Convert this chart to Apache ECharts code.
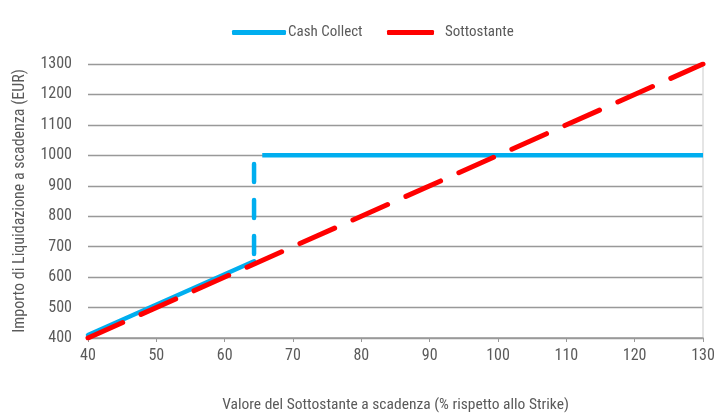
<!DOCTYPE html>
<html>
<head>
<meta charset="utf-8">
<script src="https://cdn.jsdelivr.net/npm/echarts@6/dist/echarts.min.js"></script>
<style>html,body{margin:0;padding:0;background:#fff}#c{width:716px;height:413px}</style>
</head>
<body>
<div id="c"></div>
<script>
const xTicks = [40, 50, 60, 70, 80, 90, 100, 110, 120, 130];
const yTicks = [400, 500, 600, 700, 800, 900, 1000, 1100, 1200, 1300];
const ccLow = [[40, 410], [64.3, 652]];
const ccJump = [[64.3, 676], [64.3, 1012]];
const ccHigh = [[65.5, 1000], [130, 1000]];
const underlying = [[40, 400], [130, 1300]];

const FONT = "'Roboto Condensed', 'Liberation Sans', sans-serif";
const BLUE = '#00AEEF';
const RED = '#FF0000';
const TXT = '#5a5a5a';
const chart = echarts.init(document.getElementById('c'));
chart.setOption({
  animation: false,
  textStyle: { fontFamily: FONT },
  legend: [{
    top: 20,
    left: 227,
    itemWidth: 54,
    itemHeight: 5,
    textStyle: { color: TXT, fontSize: 15, fontFamily: FONT, padding: [0, 0, 0, -3] },
    data: [{ name: 'Cash Collect', icon: 'roundRect', itemStyle: { color: BLUE } }]
  }, {
    top: 20,
    left: 382,
    itemWidth: 47,
    itemHeight: 5,
    textStyle: { color: TXT, fontSize: 15, fontFamily: FONT, padding: [0, 0, 0, 6] },
    data: [{ name: 'Sottostante', icon: 'roundRect', itemStyle: { color: RED } }]
  }],
  grid: { left: 88, right: 13, top: 64, bottom: 75, outerBoundsMode: 'none' },
  xAxis: {
    type: 'value',
    min: 40, max: 130, interval: 10,
    name: 'Valore del Sottostante a scadenza (% rispetto allo Strike)',
    nameLocation: 'middle',
    nameGap: 59,
    nameTextStyle: { color: TXT, fontSize: 15.5, fontFamily: FONT },
    axisLine: { show: true, lineStyle: { color: '#999', width: 1.5 } },
    axisTick: { show: true, length: 4, lineStyle: { color: '#999' } },
    axisLabel: { color: TXT, fontSize: 16, margin: 10, fontFamily: FONT,
      formatter: v => xTicks.includes(v) ? String(v) : '' },
    splitLine: { show: false }
  },
  yAxis: [{
    type: 'value',
    min: 400, max: 1300, interval: 100,
    name: 'Importo di Liquidazione a scadenza (EUR)',
    nameLocation: 'middle',
    nameGap: 60,
    nameTextStyle: { color: TXT, fontSize: 16, fontFamily: FONT },
    axisLine: { show: false },
    axisTick: { show: false },
    axisLabel: { color: TXT, fontSize: 16, margin: 16, fontFamily: FONT,
      formatter: v => yTicks.includes(v) ? String(v) : '' },
    splitLine: { show: true, lineStyle: { color: '#999', width: 1.3 } }
  }, {
    type: 'value',
    position: 'right',
    min: 400, max: 1300, interval: 100,
    axisLine: { show: true, lineStyle: { color: '#ddd', width: 1.5 } },
    axisTick: { show: false },
    axisLabel: { show: false },
    splitLine: { show: false }
  }],
  series: [
    { name: 'Cash Collect', type: 'line', data: ccLow, showSymbol: false, z: 2,
      lineStyle: { color: BLUE, width: 4.5, cap: 'round' }, itemStyle: { color: BLUE } },
    { name: 'Cash Collect', type: 'line', data: ccJump, showSymbol: false, z: 2,
      lineStyle: { color: BLUE, width: 4.5, type: [18, 18], cap: 'round' }, itemStyle: { color: BLUE } },
    { name: 'Cash Collect', type: 'line', data: ccHigh, showSymbol: false, z: 2,
      lineStyle: { color: BLUE, width: 4.5 }, itemStyle: { color: BLUE } },
    { name: 'Sottostante', type: 'line', data: underlying, showSymbol: false, z: 3,
      lineStyle: { color: RED, width: 5, type: [38, 20], cap: 'round' }, itemStyle: { color: RED } }
  ]
});
</script>
</body>
</html>
